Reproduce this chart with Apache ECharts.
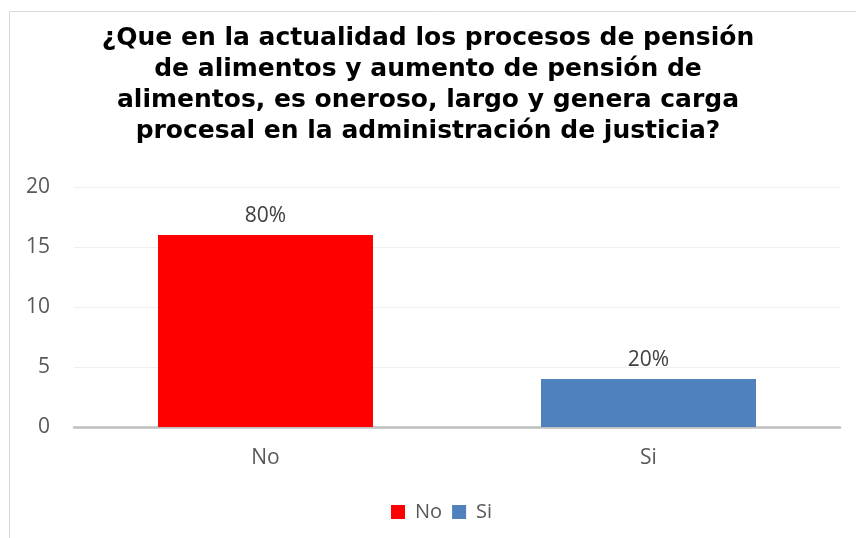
<!DOCTYPE html>
<html>
<head>
<meta charset="utf-8">
<script src="https://cdn.jsdelivr.net/npm/echarts@6/dist/echarts.min.js"></script>
<style>
  html, body { margin: 0; padding: 0; background: #fff; }
  #main { width: 856px; height: 538px; }
</style>
</head>
<body>
<div id="main"></div>
<script>
  // datos
  const categories = ['No', 'Si']
  const noValues = [16, '-']
  const siValues = ['-', 4]
  const percentLabels = ['80%', '20%']
  const yTicks = [0, 5, 10, 15, 20]

  const titleText = '¿Que en la actualidad los procesos de pensión\nde alimentos y aumento de pensión de\nalimentos, es oneroso, largo y genera carga\nprocesal en la administración de justicia?'

  const myChart = echarts.init(document.getElementById('main'))

  const labelFmt = p => percentLabels[p.dataIndex]
  const txtFont = 'Open Sans, Calibri'

  const option = {
    backgroundColor: '#ffffff',
    animation: false,
    title: {
      text: titleText,
      left: 'center',
      top: 18,
      textStyle: {
        fontFamily: 'DejaVu Sans, Arial',
        fontWeight: 'bold',
        fontSize: 25,
        lineHeight: 31,
        color: '#000000'
      }
    },
    graphic: [{
      type: 'rect',
      shape: { x: 9.5, y: 11.5, width: 900, height: 600 },
      style: { fill: 'none', stroke: '#d9d9d9', lineWidth: 1 },
      silent: true
    }],
    legend: {
      data: categories,
      left: 386,
      top: 497,
      itemWidth: 14,
      itemHeight: 14,
      itemGap: 10,
      icon: 'rect',
      textStyle: { fontFamily: txtFont, fontSize: 20, color: '#595959', padding: [0, 0, 0, 5] }
    },
    grid: {
      left: 74,
      right: 16,
      top: 187,
      bottom: 111
    },
    xAxis: {
      type: 'category',
      data: categories,
      axisTick: { show: false },
      axisLine: { lineStyle: { color: '#bfbfbf', width: 2.5 } },
      axisLabel: {
        margin: 21,
        fontFamily: txtFont,
        fontSize: 21,
        color: '#595959'
      }
    },
    yAxis: {
      type: 'value',
      min: yTicks[0],
      max: yTicks[yTicks.length - 1],
      interval: 5,
      axisLine: { show: false },
      axisTick: { show: false },
      splitLine: { lineStyle: { color: '#efefef', width: 1 } },
      axisLabel: {
        margin: 24,
        fontFamily: txtFont,
        fontSize: 21,
        color: '#595959'
      }
    },
    series: [{
      name: 'No',
      type: 'bar',
      stack: 'total',
      barWidth: 215,
      data: noValues,
      itemStyle: { color: '#ff0000' },
      label: {
        show: true,
        position: 'top',
        distance: 8,
        formatter: labelFmt,
        fontFamily: txtFont,
        fontSize: 21,
        color: '#404040'
      }
    }, {
      name: 'Si',
      type: 'bar',
      stack: 'total',
      barWidth: 215,
      data: siValues,
      itemStyle: { color: '#4f81bd' },
      label: {
        show: true,
        position: 'top',
        distance: 8,
        formatter: labelFmt,
        fontFamily: txtFont,
        fontSize: 21,
        color: '#404040'
      }
    }]
  }

  myChart.setOption(option)
</script>
</body>
</html>
